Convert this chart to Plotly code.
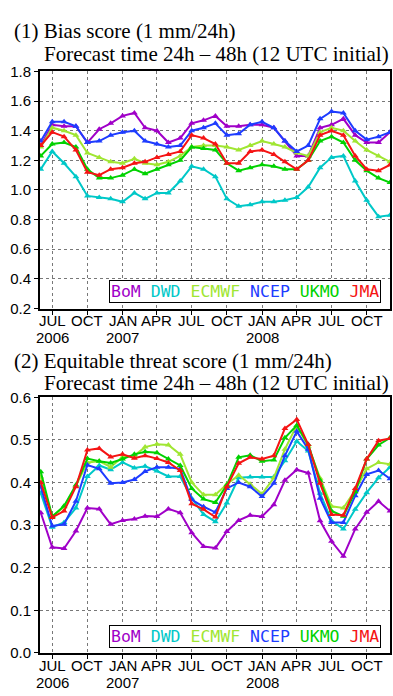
import plotly.graph_objects as go

months = ["2006-06-01","2006-07-01","2006-08-01","2006-09-01","2006-10-01","2006-11-01","2006-12-01",
          "2007-01-01","2007-02-01","2007-03-01","2007-04-01","2007-05-01","2007-06-01","2007-07-01",
          "2007-08-01","2007-09-01","2007-10-01","2007-11-01","2007-12-01","2008-01-01","2008-02-01",
          "2008-03-01","2008-04-01","2008-05-01","2008-06-01","2008-07-01","2008-08-01","2008-09-01",
          "2008-10-01","2008-11-01","2008-12-01"]

centers = ["BoM", "DWD", "ECMWF", "NCEP", "UKMO", "JMA"]
colors = {"BoM": "rgb(160,0,200)", "DWD": "rgb(0,200,200)", "ECMWF": "rgb(160,230,50)",
          "NCEP": "rgb(30,60,255)", "UKMO": "rgb(0,210,0)", "JMA": "rgb(245,20,20)"}

bias_BoM = [1.30,1.44,1.43,1.43,1.32,1.41,1.45,1.50,1.52,1.42,1.40,1.32,1.35,1.45,1.47,1.50,1.43,1.43,1.44,1.44,1.42,1.33,1.23,1.23,1.42,1.44,1.48,1.37,1.32,1.32,1.39]
bias_DWD = [1.14,1.26,1.18,1.09,0.96,0.95,0.94,0.92,0.98,0.94,0.98,0.98,1.06,1.16,1.14,1.09,0.94,0.89,0.90,0.92,0.92,0.93,0.95,1.02,1.15,1.22,1.23,1.06,0.93,0.82,0.83]
bias_ECMWF = [1.29,1.42,1.40,1.37,1.25,1.22,1.19,1.18,1.21,1.18,1.17,1.19,1.23,1.29,1.30,1.30,1.29,1.27,1.30,1.33,1.31,1.29,1.25,1.23,1.39,1.42,1.40,1.33,1.27,1.23,1.19]
bias_NCEP = [1.33,1.46,1.46,1.43,1.32,1.33,1.37,1.39,1.40,1.33,1.31,1.29,1.30,1.40,1.42,1.45,1.37,1.38,1.44,1.46,1.42,1.33,1.26,1.30,1.48,1.53,1.52,1.40,1.34,1.36,1.39]
bias_UKMO = [1.23,1.31,1.32,1.29,1.14,1.08,1.08,1.10,1.14,1.11,1.14,1.17,1.20,1.29,1.28,1.27,1.18,1.13,1.15,1.17,1.16,1.14,1.14,1.20,1.33,1.36,1.32,1.20,1.13,1.08,1.05]
bias_JMA = [1.30,1.39,1.36,1.27,1.12,1.10,1.14,1.15,1.18,1.19,1.22,1.24,1.26,1.37,1.35,1.31,1.18,1.18,1.26,1.27,1.24,1.19,1.14,1.20,1.37,1.40,1.37,1.23,1.14,1.13,1.17]

ets_BoM = [0.329,0.248,0.245,0.286,0.340,0.338,0.302,0.311,0.314,0.321,0.320,0.338,0.329,0.282,0.250,0.246,0.285,0.311,0.323,0.320,0.348,0.405,0.430,0.422,0.310,0.262,0.227,0.291,0.330,0.356,0.333]
ets_DWD = [0.375,0.295,0.306,0.340,0.414,0.440,0.430,0.447,0.434,0.438,0.427,0.414,0.414,0.363,0.325,0.308,0.352,0.411,0.413,0.413,0.413,0.451,0.497,0.474,0.375,0.310,0.291,0.337,0.376,0.411,0.436]
ets_ECMWF = [0.413,0.320,0.343,0.392,0.447,0.450,0.436,0.460,0.463,0.483,0.490,0.488,0.466,0.400,0.371,0.371,0.396,0.417,0.396,0.373,0.411,0.478,0.534,0.485,0.410,0.344,0.340,0.382,0.432,0.447,0.443]
ets_NCEP = [0.390,0.298,0.302,0.356,0.441,0.432,0.398,0.400,0.407,0.426,0.436,0.436,0.432,0.360,0.343,0.330,0.386,0.400,0.390,0.367,0.398,0.463,0.520,0.478,0.363,0.306,0.306,0.369,0.419,0.428,0.409]
ets_UKMO = [0.425,0.320,0.345,0.394,0.456,0.450,0.446,0.455,0.466,0.472,0.470,0.455,0.440,0.386,0.361,0.353,0.394,0.459,0.464,0.450,0.453,0.505,0.534,0.489,0.405,0.333,0.321,0.378,0.455,0.488,0.505]
ets_JMA = [0.400,0.318,0.333,0.390,0.476,0.480,0.460,0.466,0.457,0.463,0.456,0.447,0.428,0.350,0.337,0.319,0.390,0.445,0.459,0.455,0.463,0.527,0.548,0.489,0.398,0.325,0.323,0.386,0.455,0.498,0.503]

bias = {"BoM": bias_BoM, "DWD": bias_DWD, "ECMWF": bias_ECMWF, "NCEP": bias_NCEP, "UKMO": bias_UKMO, "JMA": bias_JMA}
ets = {"BoM": ets_BoM, "DWD": ets_DWD, "ECMWF": ets_ECMWF, "NCEP": ets_NCEP, "UKMO": ets_UKMO, "JMA": ets_JMA}

tick_vals = ["2006-07-01","2006-10-01","2007-01-01","2007-04-01","2007-07-01","2007-10-01",
             "2008-01-01","2008-04-01","2008-07-01","2008-10-01"]
tick_text = ["JUL","OCT","JAN","APR","JUL","OCT","JAN","APR","JUL","OCT"]
year_pos = ["2006-07-01","2007-01-01","2008-01-01"]
year_text = ["2006","2007","2008"]

bias_ticks = [0.2,0.4,0.6,0.8,1.0,1.2,1.4,1.6,1.8]
ets_ticks = [0.0,0.1,0.2,0.3,0.4,0.5,0.6]

fig = go.Figure()
for c in centers:
    fig.add_trace(go.Scatter(x=months, y=bias[c], mode="lines+markers", xaxis="x", yaxis="y",
                             line=dict(color=colors[c], width=2),
                             marker=dict(symbol="triangle-up", size=6, color=colors[c]),
                             showlegend=False))
for c in centers:
    fig.add_trace(go.Scatter(x=months, y=ets[c], mode="lines+markers", xaxis="x2", yaxis="y2",
                             line=dict(color=colors[c], width=2),
                             marker=dict(symbol="triangle-up", size=6, color=colors[c]),
                             showlegend=False))

tickfont = dict(family="Liberation Sans, Arial, sans-serif", size=15, color="black")
xcommon = dict(range=["2006-05-30", "2008-12-01"], tickvals=tick_vals, showticklabels=False,
               showgrid=True, gridcolor="rgb(120,120,120)", griddash="dot", gridwidth=1,
               showline=True, linecolor="black", linewidth=2, mirror=True,
               ticks="outside", ticklen=4, tickcolor="black", zeroline=False)
ycommon = dict(showgrid=True, gridcolor="rgb(120,120,120)", griddash="dot", gridwidth=1,
               showline=True, linecolor="black", linewidth=2, mirror=True,
               ticks="outside", ticklen=4, tickcolor="black", tickfont=tickfont,
               tickformat=".1f", zeroline=False)

xd = [40/393, 390/393]
top_dom = [1-307/696, 1-64/696]
bot_dom = [1-660/696, 1-398/696]

fig.update_layout(
    width=393, height=696, margin=dict(l=0, r=0, t=0, b=0),
    paper_bgcolor="white", plot_bgcolor="white",
    xaxis=dict(domain=xd, anchor="y", **xcommon),
    yaxis=dict(domain=top_dom, anchor="x", range=[0.2, 1.8], tickvals=bias_ticks, **ycommon),
    xaxis2=dict(domain=xd, anchor="y2", **xcommon),
    yaxis2=dict(domain=bot_dom, anchor="x2", range=[0.0, 0.6], tickvals=ets_ticks, **ycommon),
)

serif = dict(family="Liberation Serif, Times New Roman, serif", size=21, color="black")
ann = []
ann.append(dict(text="(1) Bias score (1 mm/24h)", x=12/393, y=1-23/696, xref="paper", yref="paper",
                xanchor="left", yanchor="middle", showarrow=False, font=serif))
ann.append(dict(text="Forecast time 24h \u2013 48h (12 UTC initial)", x=42/393, y=1-46/696, xref="paper", yref="paper",
                xanchor="left", yanchor="middle", showarrow=False, font=serif))
ann.append(dict(text="(2) Equitable threat score (1 mm/24h)", x=12/393, y=1-361/696, xref="paper", yref="paper",
                xanchor="left", yanchor="middle", showarrow=False, font=serif))
ann.append(dict(text="Forecast time 24h \u2013 48h (12 UTC initial)", x=42/393, y=1-383/696, xref="paper", yref="paper",
                xanchor="left", yanchor="middle", showarrow=False, font=serif))

# month tick labels and year lines under each x axis
for xr, mpx, ypx in (("x", 319, 337), ("x2", 672.5, 690.5)):
    for p, t in zip(tick_vals, tick_text):
        ann.append(dict(text=t, x=p, y=1-mpx/696, xref=xr, yref="paper", xanchor="center",
                        yanchor="middle", showarrow=False, font=tickfont))
    for p, t in zip(year_pos, year_text):
        ann.append(dict(text=t, x=p, y=1-ypx/696, xref=xr, yref="paper", xanchor="center",
                        yanchor="middle", showarrow=False, font=tickfont))

legend_text = " ".join('<span style="color:%s">%s</span>' % (colors[c], c) for c in centers)
legfont = dict(family="DejaVu Sans Mono, monospace", size=16.5, color="black")
ann.append(dict(text=legend_text, x=(381-40)/350, y=(307-301)/243, xref="x domain", yref="y domain",
                xanchor="right", yanchor="bottom", showarrow=False, font=legfont,
                bordercolor="black", borderwidth=1, borderpad=1, bgcolor="white"))
ann.append(dict(text=legend_text, x=(381-40)/350, y=(660-655)/262, xref="x2 domain", yref="y2 domain",
                xanchor="right", yanchor="bottom", showarrow=False, font=legfont,
                bordercolor="black", borderwidth=1, borderpad=1, bgcolor="white"))
fig.update_layout(annotations=ann)

fig.write_html("out.html")
